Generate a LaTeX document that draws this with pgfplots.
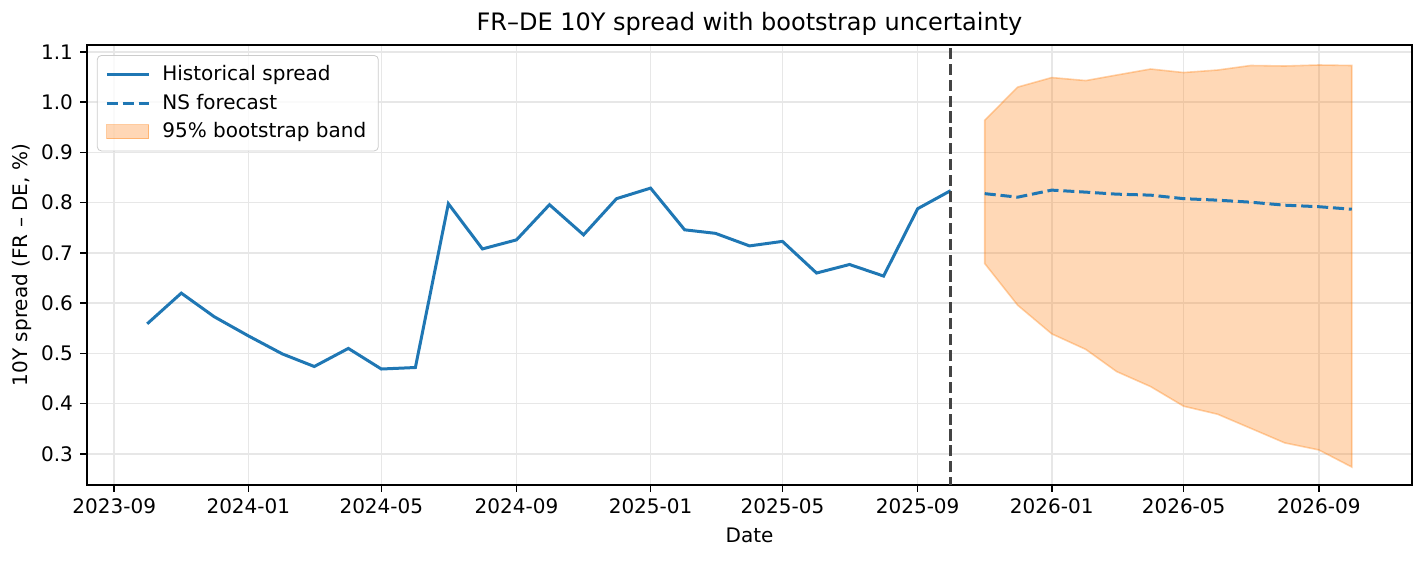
\documentclass[border=0pt]{standalone}
\usepackage{pgfplots}
\pgfplotsset{compat=1.18}
\usepackage{fontspec}
\setmainfont{DejaVu Sans}
\definecolor{c0}{HTML}{1F77B4}
\definecolor{c1}{HTML}{FF7F0E}
\definecolor{gridc}{RGB}{231,231,231}
\definecolor{vline}{HTML}{444444}
\pgfplotsset{
  mylinelegend/.style={legend image code/.code={\draw[##1] (0pt,0pt) -- (21pt,0pt);}},
  myarealegend/.style={legend image code/.code={\draw[##1, sharp corners] (0pt,-3.5pt) rectangle (21pt,3.5pt);}},
}
\begin{document}
\begin{tikzpicture}
\path[use as bounding box] (-43.5pt,-38pt) rectangle (669pt,242.5pt);
\begin{axis}[
  at={(0,0)}, anchor=south west,
  scale only axis, width=662.5pt, height=220pt,
  xmin=-24.8, xmax=1180.8, ymin=0.2382, ymax=1.1138,
  xtick={0,122,243,366,488,608,731,853,973,1096},
  xticklabels={2023-09,2024-01,2024-05,2024-09,2025-01,2025-05,2025-09,2026-01,2026-05,2026-09},
  ytick={0.3,0.4,0.5,0.6,0.7,0.8,0.9,1.0,1.1},
  yticklabel style={/pgf/number format/.cd,fixed,fixed zerofill,precision=1},
  /pgf/number format/assume math mode=true,
  tick label style={font=\fontsize{10}{12}\selectfont},
  label style={font=\fontsize{10}{12}\selectfont},
  title style={font=\fontsize{12}{14}\selectfont, yshift=-5pt},
  title={FR–DE 10Y spread with bootstrap uncertainty},
  xlabel={Date}, ylabel={10Y spread (FR – DE, \%)},
  ylabel style={yshift=-2pt},
  grid=major, major grid style={gridc, line width=0.8pt},
  axis line style={line width=0.8pt, black},
  tick style={line width=0.8pt, black},
  tick align=outside, major tick length=3.5pt,
  xtick pos=bottom, ytick pos=left,
  legend style={at={(0.0075,0.977)}, anchor=north west, draw=black!20, fill=white, fill opacity=0.8, text opacity=1, rounded corners=2pt, font=\fontsize{10}{12}\selectfont, row sep=1.2pt, inner xsep=4pt, inner ysep=3pt},
  legend cell align=left,
  clip=true,
]
\addlegendimage{mylinelegend, c0, line width=1.5pt}
\addlegendentry{\hspace*{4pt}Historical spread}
\addlegendimage{mylinelegend, c0, line width=1.5pt, dash pattern=on 5.55pt off 2.4pt}
\addlegendentry{\hspace*{4pt}NS forecast}
\addlegendimage{myarealegend, fill=c1, fill opacity=0.3, draw=c1, draw opacity=0.4}
\addlegendentry{\hspace*{4pt}95\% bootstrap band}

% bootstrap band
\addplot[forget plot, fill=c1, fill opacity=0.3, draw=c1, draw opacity=0.35, line width=0.8pt] coordinates {
(792,0.964) (822,1.030) (853,1.049) (884,1.043) (912,1.054) (943,1.066) (973,1.059) (1004,1.064) (1034,1.073) (1065,1.072) (1096,1.074) (1126,1.073)
(1126,0.274) (1096,0.308) (1065,0.322) (1034,0.351) (1004,0.379) (973,0.395) (943,0.434) (912,0.464) (884,0.508) (853,0.539) (822,0.596) (792,0.679)
} -- cycle;

% historical
\addplot[forget plot, c0, line width=1.5pt] coordinates {
(30,0.559) (61,0.620) (91,0.573) (122,0.535) (153,0.499) (182,0.474) (213,0.510) (243,0.469) (274,0.472) (304,0.798) (335,0.708) (366,0.726) (396,0.796) (427,0.736) (457,0.808) (488,0.829) (519,0.746) (547,0.739) (578,0.714) (608,0.723) (639,0.660) (669,0.677) (700,0.654) (731,0.788) (761,0.824)
};

% forecast
\addplot[forget plot, c0, line width=1.5pt, dash pattern=on 5.55pt off 2.4pt] coordinates {
(792,0.818) (822,0.811) (853,0.825) (884,0.821) (912,0.817) (943,0.815) (973,0.808) (1004,0.805) (1034,0.801) (1065,0.795) (1096,0.792) (1126,0.787)
};

% forecast start line
\addplot[forget plot, vline, line width=1.5pt, dash pattern=on 5.55pt off 2.4pt] coordinates {(761,0.2) (761,1.2)};
\end{axis}
\end{tikzpicture}
\end{document}
